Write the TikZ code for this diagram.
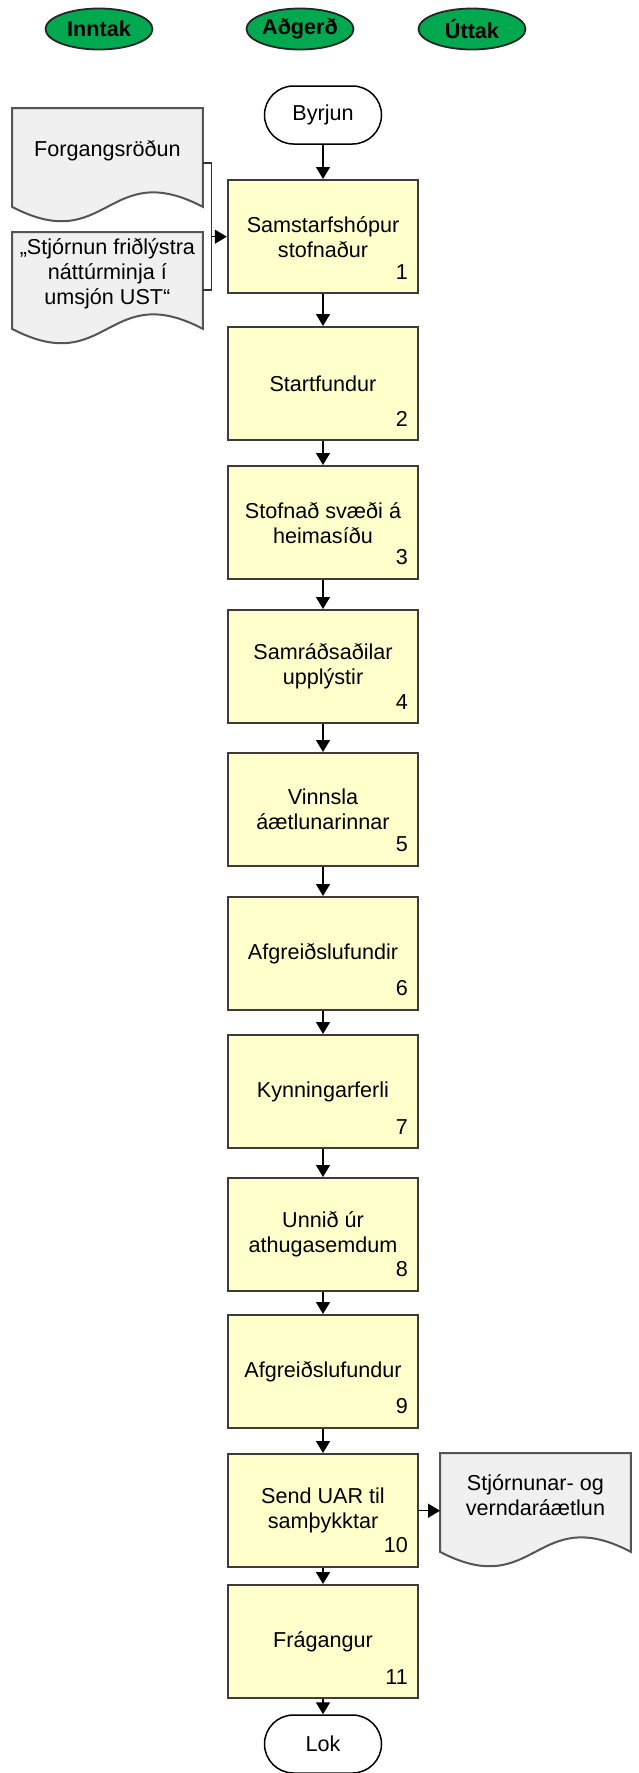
\documentclass[tikz,border=0pt]{standalone}
\usepackage{fontspec}
\setmainfont{Liberation Sans}
\usetikzlibrary{arrows.meta,backgrounds,shapes.geometric}
\definecolor{boxfill}{RGB}{255,255,204}
\definecolor{boxline}{RGB}{60,60,60}
\definecolor{docfill}{RGB}{240,240,240}
\definecolor{docline}{RGB}{85,85,85}
\definecolor{grn}{RGB}{0,168,80}
\newcommand{\mydocshape}[1]{%
  \draw[docshape] (#1.north west) -- (#1.north east) -- ([yshift=-7pt]#1.south east)
    .. controls ([yshift=18pt]#1.south) and ([yshift=-32pt]#1.south) .. ([yshift=-7pt]#1.south west) -- cycle;}
\begin{document}
\begin{tikzpicture}[x=0.5pt,y=-0.5pt,
  font=\fontsize{10.8pt}{12.5pt}\selectfont,
  stepbox/.style={draw=boxline, line width=1.2pt, fill=boxfill, minimum width=95pt,
    minimum height=56.5pt, align=center, inner sep=0pt, anchor=north},
  term/.style={draw=black, fill=white, rounded corners=14.5pt, minimum width=58.5pt,
    minimum height=29pt, line width=0.75pt, inner sep=0pt},
  hdr/.style={ellipse, draw=black!85, fill=grn, line width=0.9pt, minimum width=53.5pt,
    minimum height=20.5pt, inner sep=0pt, font=\fontsize{10.8pt}{12pt}\selectfont\bfseries},
  docnode/.style={anchor=north west, minimum width=95pt, inner sep=0pt, align=center},
  docshape/.style={draw=docline, fill=docfill, line width=1pt},
  num/.style={anchor=south east, inner sep=0pt},
  arr/.style={-{Triangle[length=6pt,width=7pt]}, line width=0.75pt, draw=black},
  conn/.style={line width=0.75pt, draw=black!80}]
\useasboundingbox (0,0) rectangle (638,1773);

% headers
\node[hdr] (h1) at (99,29) {Inntak};
\node[hdr] (h2) at (300,29) {Aðgerð};
\node[hdr] (h3) at (472,29) {Úttak};

% terminals
\node[term] (start) at (323,115) {Byrjun};
\node[term] (stop) at (323,1744) {Lok};

% process boxes
\node[stepbox] (b1) at (323,179) {Samstarfshópur\\stofnaður};
\node[stepbox] (b2) at (323,326) {Startfundur};
\node[stepbox] (b3) at (323,465) {Stofnað svæði á\\heimasíðu};
\node[stepbox] (b4) at (323,609) {Samráðsaðilar\\upplýstir};
\node[stepbox] (b5) at (323,752) {Vinnsla\\áætlunarinnar};
\node[stepbox] (b6) at (323,896) {Afgreiðslufundir};
\node[stepbox] (b7) at (323,1034) {Kynningarferli};
\node[stepbox] (b8) at (323,1177) {Unnið úr\\athugasemdum};
\node[stepbox] (b9) at (323,1314) {Afgreiðslufundur};
\node[stepbox] (b10) at (323,1453) {Send UAR til\\samþykktar};
\node[stepbox] (b11) at (323,1584) {Frágangur};

% numbers
\foreach \i in {1,...,11}{
  \node[num] (n\i) at ([shift={(-11,-15)}]b\i.south east) {\i};
}

% documents
\node[docnode, minimum height=42pt] (d1) at (12,108) {Forgangsröðun};
\node[docnode, minimum height=41pt] (d2) at (12,232) {„Stjórnun friðlýstra\\náttúrminja í\\umsjón UST“};
\node[docnode, minimum height=42pt] (d3) at (440,1453) {Stjórnunar- og\\verndaráætlun};

\begin{scope}[on background layer]
  \mydocshape{d1}
  \mydocshape{d2}
  \mydocshape{d3}
\end{scope}

% bracket collecting the two inputs
\coordinate (bt) at (211.5,163);
\coordinate (bb) at (211.5,290);
\draw[conn] (d1.east |- bt) -- (bt) -- (bb) -- (d2.east |- bb);
\draw[arr] (b1.west -| bt) -- (b1.west);

% flow arrows
\draw[arr] (start) -- (b1);
\draw[arr] (b1) -- (b2);
\draw[arr] (b2) -- (b3);
\draw[arr] (b3) -- (b4);
\draw[arr] (b4) -- (b5);
\draw[arr] (b5) -- (b6);
\draw[arr] (b6) -- (b7);
\draw[arr] (b7) -- (b8);
\draw[arr] (b8) -- (b9);
\draw[arr] (b9) -- (b10);
\draw[arr] (b10) -- (b11);
\draw[arr] (b11) -- (stop);
\draw[arr] (b10.east) -- (b10.east -| d3.west);
\end{tikzpicture}
\end{document}
